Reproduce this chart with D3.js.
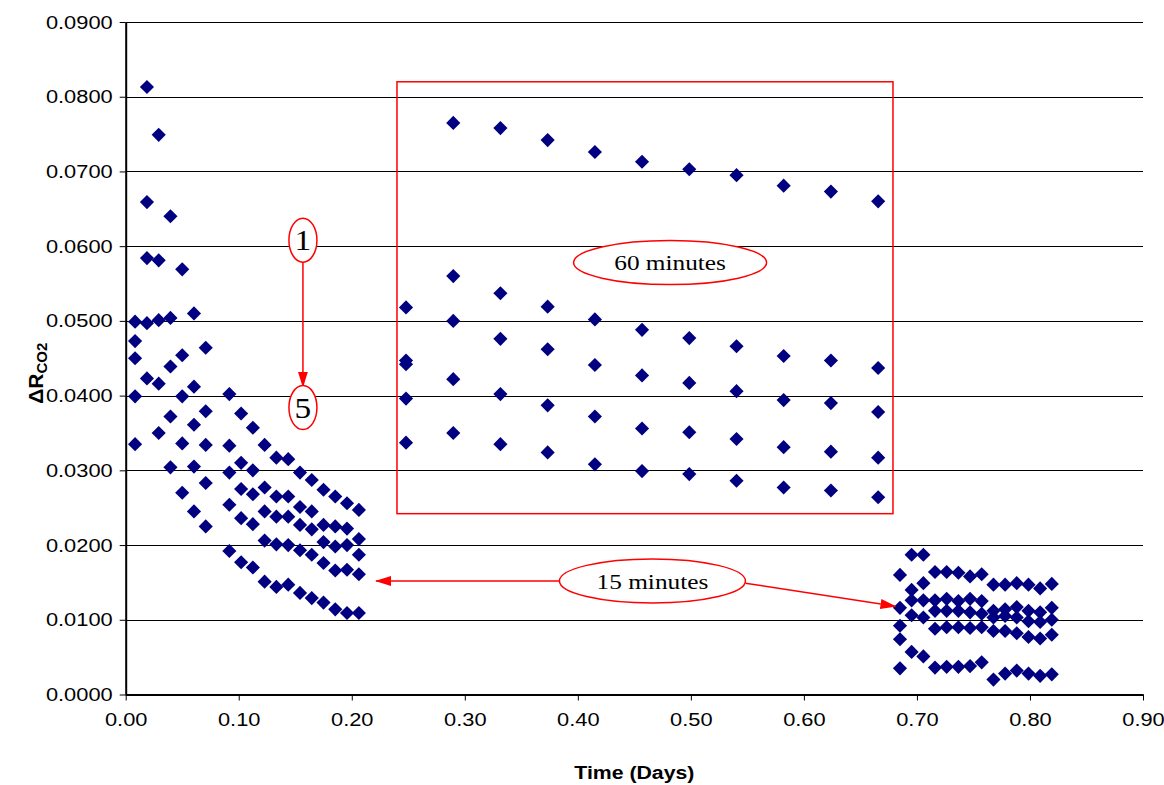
<!DOCTYPE html>
<html>
<head>
<meta charset="utf-8">
<script src="https://cdn.jsdelivr.net/npm/d3@7/dist/d3.min.js"></script>
<style>
  body { margin: 0; background: #fff; }
  text { font-family: "Liberation Sans", Arial, sans-serif; }
</style>
</head>
<body>
<script>
// 15 minute readings, first run (days)
const leftTimes = [0.0083, 0.0188, 0.0292, 0.0396, 0.0500, 0.0604, 0.0708,
  0.0917, 0.1021, 0.1125, 0.1229, 0.1333, 0.1438, 0.1542, 0.1646, 0.1750,
  0.1854, 0.1958, 0.2063];
const leftValues = [
  [0.0499, 0.0473, 0.0450, 0.0399, 0.0335],
  [0.0813, 0.0659, 0.0584, 0.0497, 0.0423],
  [0.0749, 0.0581, 0.0501, 0.0416, 0.0350],
  [0.0640, 0.0504, 0.0439, 0.0372, 0.0304],
  [0.0569, 0.0454, 0.0399, 0.0336, 0.0270],
  [0.0510, 0.0412, 0.0361, 0.0305, 0.0245],
  [0.0464, 0.0379, 0.0334, 0.0283, 0.0225],
  [0.0402, 0.0333, 0.0297, 0.0254, 0.0192],
  [0.0376, 0.0310, 0.0275, 0.0236, 0.0177],
  [0.0357, 0.0300, 0.0268, 0.0228, 0.0170],
  [0.0334, 0.0277, 0.0245, 0.0206, 0.0151],
  [0.0317, 0.0265, 0.0238, 0.0201, 0.0144],
  [0.0315, 0.0265, 0.0238, 0.0200, 0.0147],
  [0.0297, 0.0251, 0.0227, 0.0193, 0.0136],
  [0.0287, 0.0245, 0.0221, 0.0187, 0.0129],
  [0.0274, 0.0227, 0.0204, 0.0176, 0.0123],
  [0.0265, 0.0225, 0.0198, 0.0166, 0.0114],
  [0.0256, 0.0222, 0.0200, 0.0167, 0.0109],
  [0.0247, 0.0208, 0.0187, 0.0161, 0.0109]
];

// 60 minute readings
const midTimes = [0.2480, 0.2898, 0.3315, 0.3733, 0.4151, 0.4568, 0.4986,
  0.5404, 0.5821, 0.6239, 0.6657];
const midValues = [
  [0.0518, 0.0447, 0.0442, 0.0396, 0.0337],
  [0.0765, 0.0560, 0.0500, 0.0422, 0.0350],
  [0.0758, 0.0537, 0.0476, 0.0402, 0.0335],
  [0.0742, 0.0519, 0.0462, 0.0387, 0.0324],
  [0.0726, 0.0502, 0.0441, 0.0372, 0.0308],
  [0.0713, 0.0488, 0.0427, 0.0356, 0.0299],
  [0.0703, 0.0477, 0.0417, 0.0351, 0.0295],
  [0.0695, 0.0466, 0.0406, 0.0342, 0.0286],
  [0.0681, 0.0453, 0.0394, 0.0331, 0.0277],
  [0.0673, 0.0447, 0.0390, 0.0325, 0.0273],
  [0.0660, 0.0437, 0.0378, 0.0317, 0.0264]
];

// 15 minute readings, second run
const rightTimes = [0.6850, 0.6953, 0.7057, 0.7160, 0.7263, 0.7367, 0.7470,
  0.7573, 0.7677, 0.7780, 0.7883, 0.7987, 0.8090, 0.8193];
const rightValues = [
  [0.0160, 0.0116, 0.0092, 0.0074, 0.0035],
  [0.0187, 0.0140, 0.0126, 0.0106, 0.0057],
  [0.0187, 0.0149, 0.0126, 0.0103, 0.0051],
  [0.0164, 0.0126, 0.0112, 0.0088, 0.0036],
  [0.0164, 0.0128, 0.0112, 0.0090, 0.0037],
  [0.0163, 0.0125, 0.0112, 0.0090, 0.0037],
  [0.0158, 0.0128, 0.0110, 0.0089, 0.0038],
  [0.0161, 0.0125, 0.0108, 0.0090, 0.0043],
  [0.0147, 0.0112, 0.0103, 0.0085, 0.0020],
  [0.0147, 0.0114, 0.0105, 0.0085, 0.0028],
  [0.0149, 0.0117, 0.0103, 0.0082, 0.0032],
  [0.0147, 0.0112, 0.0098, 0.0077, 0.0028],
  [0.0142, 0.0110, 0.0097, 0.0075, 0.0025],
  [0.0148, 0.0116, 0.0100, 0.0080, 0.0027]
];

const xTicks = [0, 0.1, 0.2, 0.3, 0.4, 0.5, 0.6, 0.7, 0.8, 0.9];
const yTicks = [0, 0.01, 0.02, 0.03, 0.04, 0.05, 0.06, 0.07, 0.08, 0.09];

const width = 1164, height = 785;
const margin = { top: 22, right: 21, bottom: 90.5, left: 125.7 };
const textStretch = 1.15;

const svg = d3.select("body").append("svg")
  .attr("width", width)
  .attr("height", height)
  .attr("xmlns", "http://www.w3.org/2000/svg");

const x = d3.scaleLinear().domain([0, 0.9]).range([margin.left, width - margin.right]);
const y = d3.scaleLinear().domain([0, 0.09]).range([height - margin.bottom, margin.top]);

// gridlines
svg.append("g")
  .selectAll("line")
  .data(yTicks)
  .enter()
  .append("line")
  .attr("x1", x(0))
  .attr("x2", x(0.9))
  .attr("y1", (d) => Math.round(y(d)) + 0.5)
  .attr("y2", (d) => Math.round(y(d)) + 0.5)
  .attr("stroke", "#000")
  .attr("stroke-width", 1);

// axes
const xAxis = svg.append("g")
  .attr("transform", `translate(0,${y(0)})`)
  .call(d3.axisBottom(x).tickValues(xTicks).tickFormat(d3.format(".2f")).tickSize(6).tickSizeOuter(0).tickPadding(12));
const yAxis = svg.append("g")
  .attr("transform", `translate(${x(0)},0)`)
  .call(d3.axisLeft(y).tickValues(yTicks).tickFormat(d3.format(".4f")).tickSize(6).tickSizeOuter(0).tickPadding(7));

[xAxis, yAxis].forEach((g) => {
  g.select(".domain").attr("stroke", "#000").attr("stroke-width", 2);
  g.selectAll(".tick line").attr("stroke", "#000");
  g.selectAll(".tick text")
    .attr("fill", "#000")
    .style("font-size", "19px");
});
xAxis.selectAll(".tick text").attr("transform", `scale(${textStretch},1)`);
yAxis.selectAll(".tick text")
  .attr("x", -13 / textStretch)
  .attr("transform", `scale(${textStretch},1)`);

// axis titles
svg.append("text")
  .attr("transform", `translate(${(x(0) + x(0.9)) / 2},779) scale(${textStretch},1)`)
  .attr("text-anchor", "middle")
  .style("font-size", "18.5px")
  .style("font-weight", "bold")
  .text("Time (Days)");

const yTitle = svg.append("text")
  .attr("transform", `translate(43,${y(0.0430)}) rotate(-90)`)
  .attr("text-anchor", "middle")
  .style("font-size", "21px")
  .style("font-weight", "bold");
yTitle.append("tspan").text("ΔR");
yTitle.append("tspan").attr("dy", 4).style("font-size", "15px").text("CO2");

// points
const points = [];
[[leftTimes, leftValues], [midTimes, midValues], [rightTimes, rightValues]].forEach(([ts, vs]) => {
  ts.forEach((t, i) => vs[i].forEach((v) => points.push([t, v])));
});

const diamond = d3.symbol().type(d3.symbolSquare).size(100);
svg.append("g")
  .selectAll("path")
  .data(points)
  .enter()
  .append("path")
  .attr("d", diamond)
  .attr("transform", (d) => `translate(${x(d[0])},${y(d[1])}) rotate(45)`)
  .attr("fill", "#000080");

// annotations
const red = "#ff0000";
const defs = svg.append("defs");
defs.append("marker")
  .attr("id", "arrow")
  .attr("viewBox", "0 -6 16 12")
  .attr("refX", 15)
  .attr("refY", 0)
  .attr("markerUnits", "userSpaceOnUse")
  .attr("markerWidth", 16)
  .attr("markerHeight", 12)
  .attr("orient", "auto")
  .append("path")
  .attr("d", "M0,-5L16,0L0,5Z")
  .attr("fill", red);

svg.append("rect")
  .attr("x", x(0.2400))
  .attr("y", y(0.0820))
  .attr("width", x(0.6788) - x(0.2400))
  .attr("height", y(0.0242) - y(0.0820))
  .attr("fill", "none")
  .attr("stroke", red)
  .attr("stroke-width", 1.5);

const arrows = [
  [0.1568, 0.0579, 0.1568, 0.0412],
  [0.3844, 0.0152, 0.2215, 0.0152],
  [0.5483, 0.0149, 0.6810, 0.0118]
];
svg.append("g")
  .selectAll("line")
  .data(arrows)
  .enter()
  .append("line")
  .attr("x1", (d) => x(d[0]))
  .attr("y1", (d) => y(d[1]))
  .attr("x2", (d) => x(d[2]))
  .attr("y2", (d) => y(d[3]))
  .attr("stroke", red)
  .attr("stroke-width", 1.5)
  .attr("marker-end", "url(#arrow)");

const callouts = [
  { t: 0.1568, v: 0.0608, rx: 14, ry: 22, label: "1", size: 29 },
  { t: 0.1568, v: 0.0384, rx: 14, ry: 22, label: "5", size: 29 },
  { t: 0.4816, v: 0.0578, rx: 96.5, ry: 22, label: "60 minutes", size: 22 },
  { t: 0.4660, v: 0.0152, rx: 93, ry: 22, label: "15 minutes", size: 22 }
];
const co = svg.append("g")
  .selectAll("g")
  .data(callouts)
  .enter()
  .append("g")
  .attr("transform", (d) => `translate(${x(d.t)},${y(d.v)})`);
co.append("ellipse")
  .attr("rx", (d) => d.rx)
  .attr("ry", (d) => d.ry)
  .attr("fill", "#fff")
  .attr("stroke", red)
  .attr("stroke-width", 1.5);
co.append("text")
  .attr("text-anchor", "middle")
  .attr("dy", "0.35em")
  .attr("transform", `scale(${textStretch},1)`)
  .style("font-family", "'Liberation Serif', 'Times New Roman', serif")
  .style("font-size", (d) => d.size + "px")
  .text((d) => d.label);
</script>
</body>
</html>
